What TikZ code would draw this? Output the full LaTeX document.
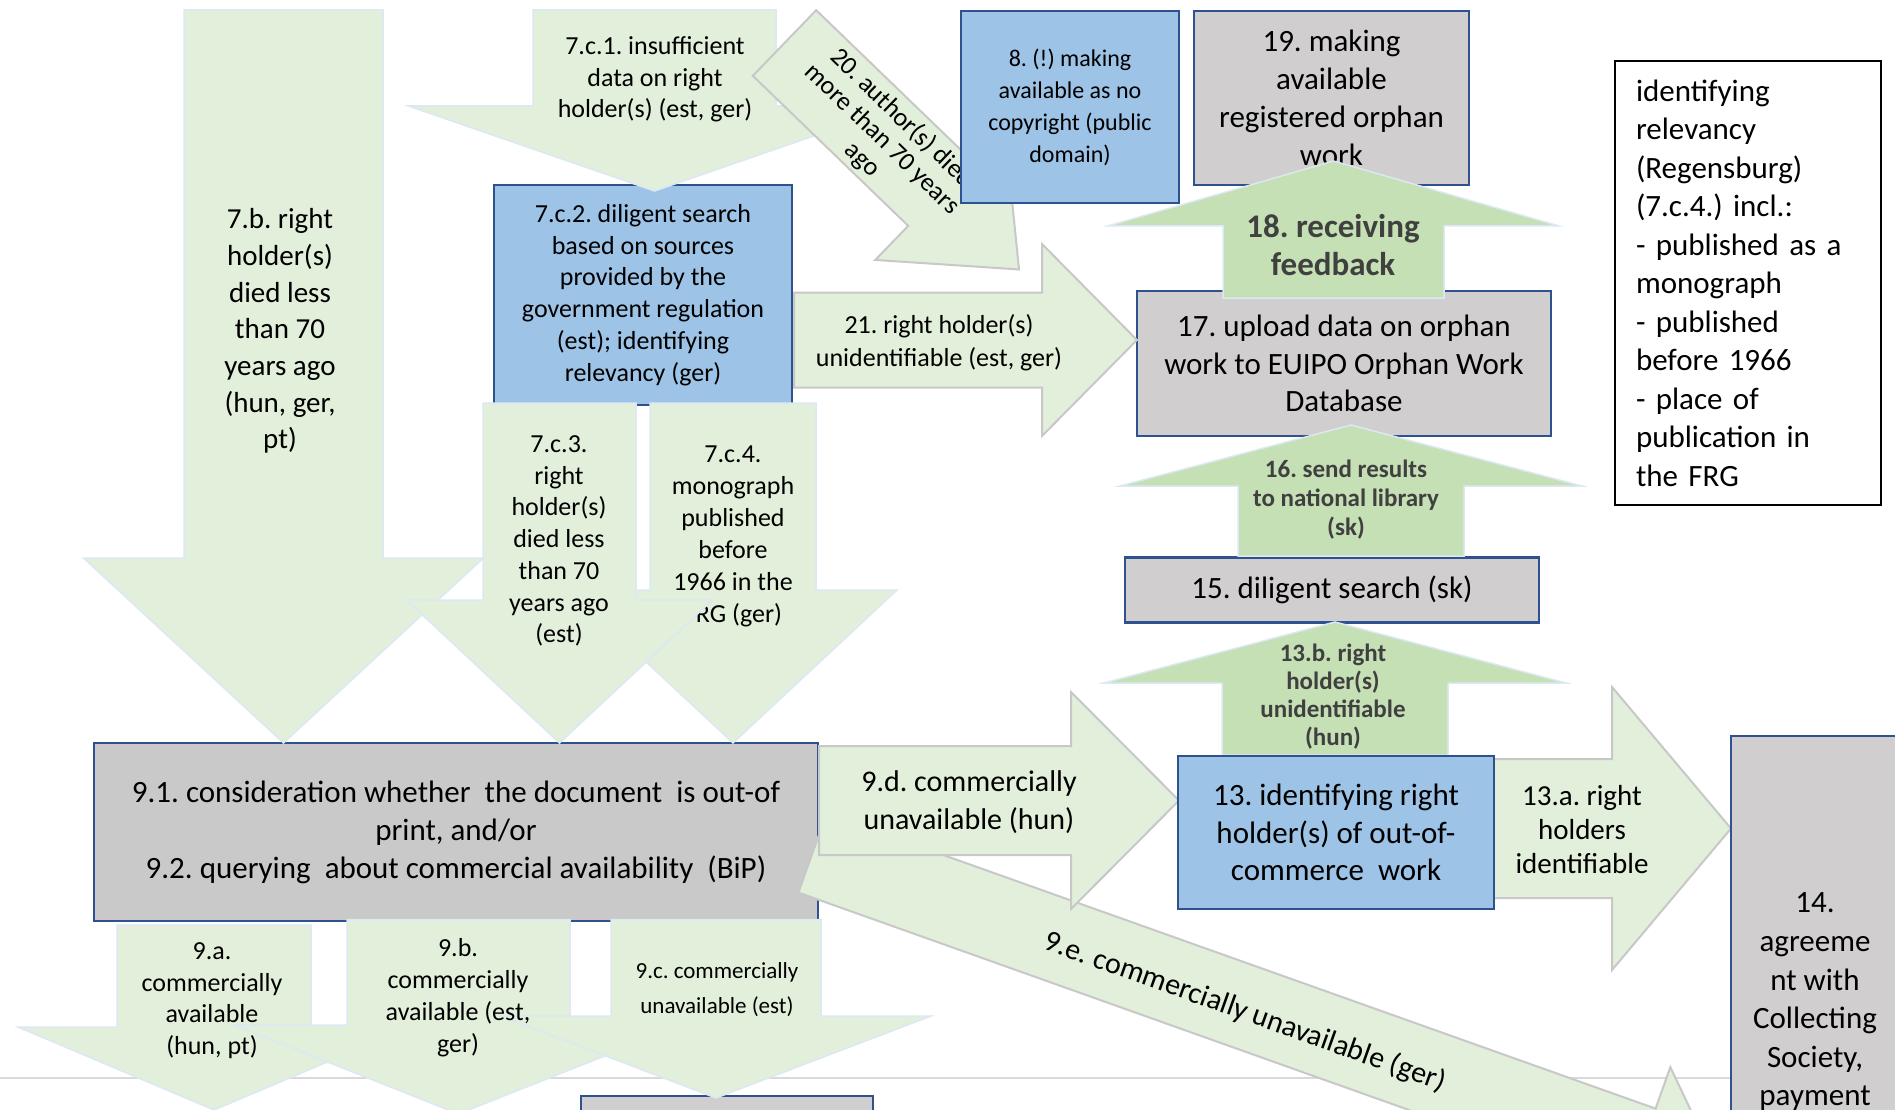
\documentclass[tikz,border=0pt]{standalone}
\usepackage{fontspec}
\setmainfont{Carlito}
\frenchspacing
\definecolor{lgreen}{HTML}{E2EFDA}
\definecolor{dgreen}{HTML}{C5E0B4}
\definecolor{bluebox}{HTML}{9DC3E6}
\definecolor{graybox}{HTML}{D0CECE}
\definecolor{graybox2}{HTML}{C9C9C9}
\definecolor{navy}{HTML}{2F528F}
\definecolor{arrgray}{HTML}{C8C8C8}
\definecolor{arrlight}{HTML}{DCE8F4}
\definecolor{txtgray}{HTML}{404040}
\definecolor{linegray}{HTML}{D9D9D9}
\newcommand{\setfs}[2]{\fontsize{#1pt}{#2pt}\selectfont}
% vertical block arrow: style, centre x, start y, shaft half width, head base y, head half width, tip y
\newcommand{\varr}[7]{\path[#1] ({#2-#4},{#3}) -- ({#2+#4},{#3}) -- ({#2+#4},{#5}) -- ({#2+#6},{#5}) -- ({#2},{#7}) -- ({#2-#6},{#5}) -- ({#2-#4},{#5}) -- cycle;}
% horizontal block arrow: style, centre y, start x, shaft half width, head base x, head half width, tip x
\newcommand{\harr}[7]{\path[#1] ({#3},{#2-#4}) -- ({#5},{#2-#4}) -- ({#5},{#2-#6}) -- ({#7},{#2}) -- ({#5},{#2+#6}) -- ({#5},{#2+#4}) -- ({#3},{#2+#4}) -- cycle;}
\begin{document}
\begin{tikzpicture}[x=1pt,y=-1pt,
  arrA/.style={fill=lgreen,draw=arrlight,line width=1.5pt},
  arrB/.style={fill=lgreen,draw=arrgray,line width=2pt},
  arrC/.style={fill=dgreen,draw=arrlight,line width=1.5pt},
  boxbase/.style={draw=navy,line width=2.5pt,inner sep=0pt,align=center,text=black},
  bluenode/.style={boxbase,fill=bluebox},
  graynode/.style={boxbase,fill=graybox},
  txt/.style={inner sep=0pt,align=center,text=black},
  ftxt/.style={inner sep=0pt,align=center,text=txtgray},
]
\useasboundingbox (0,0) rectangle (1895,1110);
\clip (0,0) rectangle (1895,1110);
\fill[white] (0,0) rectangle (1895,1110);

% page edge line
\coordinate (lineL) at (0,1078);
\coordinate (lineR) at (1731,1078);
\draw[linegray,line width=2pt] (lineL) -- (lineR);

% boxes lying under arrows
\node[graynode,fill=graybox2,minimum width=724pt,minimum height=178pt,font=\setfs{31}{38}] (b91) at (456,832)
  {9.1. consideration whether\ \ the document\ \ is out-of\\print, and/or\\9.2. querying\ \ about commercial availability\ \ (BiP)};
\node[bluenode,minimum width=298pt,minimum height=220pt,font=\setfs{26}{31.8}] (b7c2) at (643,295)
  {7.c.2. diligent search\\based on sources\\provided by the\\government regulation\\(est); identifying\\relevancy (ger)};
\node[graynode,minimum width=414pt,minimum height=145pt,font=\setfs{31}{37.5}] (b17) at (1344,363.5)
  {17. upload data on orphan\\work to EUIPO Orphan Work\\Database};
\node[graynode,minimum width=275pt,minimum height=174pt,font=\setfs{31}{38}] (b19) at (1331.5,98)
  {19. making\\available\\registered orphan\\work};
\node[graynode,minimum width=414pt,minimum height=65pt,font=\setfs{31}{38}] (b15) at (1332,590)
  {15. diligent search (sk)};
\node[graynode,minimum width=292pt,minimum height=108pt] (bbot) at (727,1150) {};

% 7.b
\varr{arrA}{283.5}{10}{99.5}{558}{200}{743}
\node[txt,font=\setfs{29}{36.7}] (t7b) at (280,331)
  {7.b. right\\holder(s)\\died less\\than 70\\years ago\\(hun, ger,\\pt)};
% 7.c.1
\varr{arrA}{654.5}{10}{121.5}{106}{246}{191}
\node[txt,font=\setfs{26}{31.6}] (t7c1) at (655,79.5)
  {7.c.1. insufficient\\data on right\\holder(s) (est, ger)};
% 7.c.4
\varr{arrA}{733}{403}{83}{590}{164}{743}
\node[txt,font=\setfs{26}{32}] (t7c4) at (733,536)
  {7.c.4.\\monograph\\published\\before\\1966 in the\\FRG (ger)};
% 7.c.3
\varr{arrA}{559.5}{403}{76.5}{600}{153}{743}
\node[txt,font=\setfs{26}{31.7}] (t7c3) at (559,541)
  {7.c.3.\\right\\holder(s)\\died less\\than 70\\years ago\\(est)};

% 20
\begin{scope}[shift={(784.5,43)},rotate=-44]
\harr{arrB}{0}{0}{45.6}{216}{93}{326}
\end{scope}
\node[txt,rotate=-44,font=\setfs{26}{28.5}] (t20) at (882,139)
  {20. author(s) died\\more than 70 years\\ago};
% 8
\node[bluenode,minimum width=218pt,minimum height=192pt,font=\setfs{24}{32}] (b8) at (1070,107)
  {8. (!) making\\available as no\\copyright (public\\domain)};

% 21
\harr{arrB}{340}{794}{47.5}{1042}{96}{1137}
\node[txt,font=\setfs{26}{33}] (t21) at (939,343)
  {21. right holder(s)\\unidentifiable (est, ger)};

% 18, 16, 13.b
\varr{arrC}{1333.5}{298}{110.5}{226}{225.5}{161}
\node[ftxt,font=\setfs{33}{38.5}\bfseries] (t18) at (1333,245) {18. receiving\\feedback};
\varr{arrC}{1351}{556}{113}{486}{231}{425}
\node[ftxt,font=\setfs{25}{29}\bfseries] (t16) at (1346,500) {16. send results\\to national library\\(sk)};
\varr{arrC}{1335}{755}{113}{683}{231}{622}
\node[ftxt,font=\setfs{25}{28}\bfseries] (t13b) at (1333,697) {13.b. right\\holder(s)\\unidentifiable\\(hun)};

% 9.e
\begin{scope}[shift={(812.5,853)},rotate=-19.6]
\harr{arrB}{0}{0}{42}{880}{86}{966}
\end{scope}
\node[txt,rotate=-19.6,font=\setfs{30}{36}] (t9e) at (1245,1012) {9.e. commercially unavailable (ger)};
% 9.d
\harr{arrB}{800.5}{819}{54.5}{1071}{108.5}{1179}
\node[txt,font=\setfs{30}{37.5}] (t9d) at (969,802) {9.d. commercially\\unavailable (hun)};
% 13.a
\harr{arrB}{828.5}{1480}{69.5}{1612}{141.5}{1731}
\node[txt,font=\setfs{29}{34}] (t13a) at (1582,830) {13.a. right\\holders\\identifiable};

% 13 and 14
\node[bluenode,minimum width=316pt,minimum height=153pt,font=\setfs{31}{37.5}] (b13) at (1336,832.5)
  {13. identifying right\\holder(s) of out-of-\\commerce\ \ work};
\node[graynode,minimum width=168pt,minimum height=532pt,font=\setfs{31}{38.6}] (b14) at (1815,1002)
  {14.\\agreeme\\nt with\\Collecting\\Society,\\payment};

% 9.a, 9.b, 9.c
\varr{arrA}{214}{925}{97}{1027}{196}{1110}
\varr{arrA}{458.5}{919.5}{111.5}{1025}{224}{1114}
\varr{arrA}{716}{919.5}{105}{1016}{215}{1098}
\node[txt,font=\setfs{26}{31.7}] (t9a) at (212,1000.5) {9.a.\\commercially\\available\\(hun, pt)};
\node[txt,font=\setfs{26}{32}] (t9b) at (458,997.5) {9.b.\\commercially\\available (est,\\ger)};
\node[txt,font=\setfs{23}{35}] (t9c) at (717,989.5) {9.c. commercially\\unavailable (est)};

% note box
\node[boxbase,draw=black,fill=white,align=left,text width=224pt,inner xsep=21pt,inner ysep=0pt,
      minimum width=266pt,minimum height=444pt,font=\setfs{31}{38.5}] (bid) at (1748,283)
  {identifying\\relevancy\\(Regensburg)\\(7.c.4.) incl.:\\- published as a\\monograph\\- published\\before 1966\\- place of\\publication in\\the FRG};
\end{tikzpicture}
\end{document}
